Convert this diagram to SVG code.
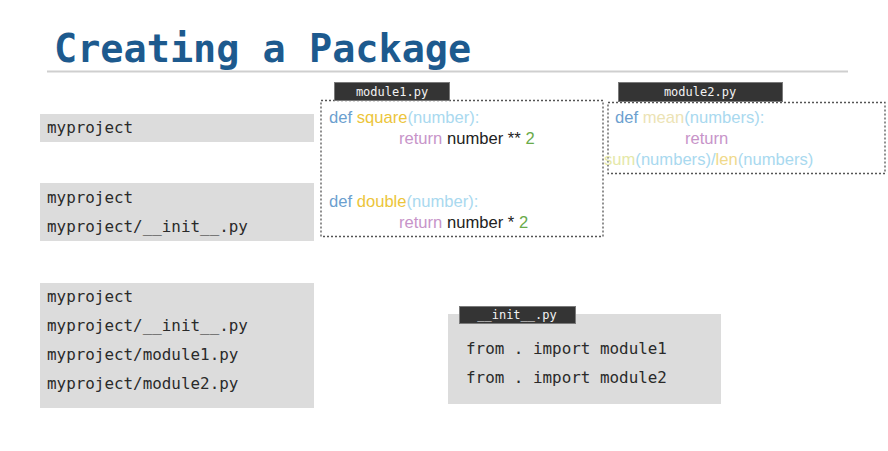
<svg xmlns="http://www.w3.org/2000/svg" width="888" height="451" viewBox="0 0 888 451">
  <style>
    .title { font-family: "DejaVu Sans Mono", "Liberation Mono", monospace; font-weight: bold; font-size: 38.5px; fill: #1d5a8e; }
    .box { fill: #dcdcdc; }
    .mono { font-family: "DejaVu Sans Mono", "Liberation Mono", monospace; font-size: 15.9px; fill: #2a2a2a; }
    .tab { fill: #343434; stroke: #7a7a7a; stroke-width: 1; }
    .tabtxt { font-family: "DejaVu Sans Mono", "Liberation Mono", monospace; font-size: 12px; fill: #f2f2f2; text-anchor: middle; }
    .dotted { fill: #ffffff; stroke: #555; stroke-width: 1.3; stroke-dasharray: 2 2; }
    .code { font-family: "Liberation Sans", Arial, sans-serif; font-size: 16.6px; fill: #222; }
    .kw { fill: #6b9fcf; }
    .fn { fill: #ecc53a; }
    .arg { fill: #a9d9ef; }
    .ret { fill: #c794c9; }
    .num { fill: #6aab4a; }
    .fn2 { fill: #ece3b4; }
    .fn3 { fill: #e5e8a8; }
    .fn4 { fill: #f0d98a; }
  </style>
  <rect width="888" height="451" fill="#ffffff"/>

  <!-- heading -->
  <g id="title">
    <text class="title" x="54" y="62">Creating a Package</text>
    <line x1="47" y1="71.5" x2="848" y2="71.5" stroke="#cfcfcf" stroke-width="2"/>
  </g>

  <!-- folder listings -->
  <g id="tree1">
    <rect class="box" x="40" y="114" width="274" height="28"/>
    <text class="mono" x="47" y="133">myproject</text>
  </g>
  <g id="tree2">
    <rect class="box" x="40" y="183" width="274" height="58"/>
    <text class="mono" x="47" y="203">myproject</text>
    <text class="mono" x="47" y="232">myproject/__init__.py</text>
  </g>
  <g id="tree3">
    <rect class="box" x="40" y="283" width="274" height="125"/>
    <text class="mono" x="47" y="302">myproject</text>
    <text class="mono" x="47" y="331">myproject/__init__.py</text>
    <text class="mono" x="47" y="360">myproject/module1.py</text>
    <text class="mono" x="47" y="389">myproject/module2.py</text>
  </g>

  <!-- module1.py -->
  <g id="module1">
    <rect class="dotted" x="321" y="100.5" width="282" height="136"/>
    <rect class="tab" x="334.5" y="82.5" width="115" height="18"/>
    <text class="tabtxt" x="392" y="95.5">module1.py</text>
    <text class="code" x="329" y="123"><tspan class="kw">def</tspan> <tspan class="fn">square</tspan><tspan class="arg">(number):</tspan></text>
    <text class="code" x="399" y="144"><tspan class="ret">return</tspan> number <tspan>**</tspan> <tspan class="num">2</tspan></text>
    <text class="code" x="329" y="207"><tspan class="kw">def</tspan> <tspan class="fn">double</tspan><tspan class="arg">(number):</tspan></text>
    <text class="code" x="399" y="228"><tspan class="ret">return</tspan> number * <tspan class="num">2</tspan></text>
  </g>

  <!-- module2.py -->
  <g id="module2">
    <rect class="dotted" x="608" y="102.5" width="277" height="71"/>
    <rect class="tab" x="618.5" y="82.5" width="164" height="19"/>
    <text class="tabtxt" x="700" y="96">module2.py</text>
    <text class="code" x="615" y="123"><tspan class="kw">def</tspan> <tspan class="fn2">mean</tspan><tspan class="arg">(numbers):</tspan></text>
    <text class="code ret" x="685" y="144">return</text>
    <text class="code" x="604" y="165"><tspan class="fn3">sum</tspan><tspan class="arg">(numbers)/</tspan><tspan class="fn4">len</tspan><tspan class="arg">(numbers)</tspan></text>
  </g>

  <!-- __init__.py -->
  <g id="init">
    <rect class="box" x="448" y="314" width="273" height="90"/>
    <rect class="tab" x="459.5" y="306.5" width="116" height="17"/>
    <text class="tabtxt" x="517" y="319">__init__.py</text>
    <text class="mono" x="466" y="354">from . import module1</text>
    <text class="mono" x="466" y="383">from . import module2</text>
  </g>
</svg>
